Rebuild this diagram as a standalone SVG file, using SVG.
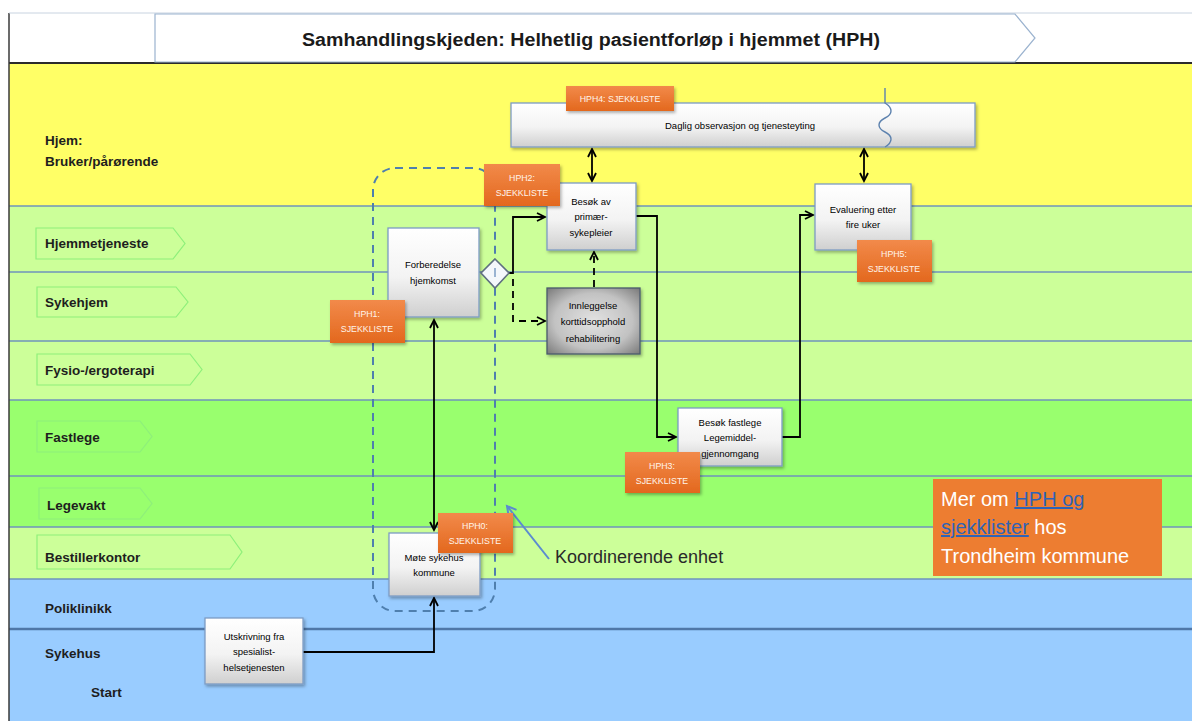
<svg xmlns="http://www.w3.org/2000/svg" width="1192" height="721" viewBox="0 0 1192 721">
  <defs>
    <style>
      .lane-line { stroke: #6f93bd; stroke-width: 1.5; }
      .lane-label { font-family: "Liberation Sans", Arial, sans-serif; font-size: 13.5px; font-weight: bold; fill: #1e1e1e; }
      .chev { fill: none; stroke: #8ef07a; stroke-width: 1.2; }
      .node { fill: url(#nodeGrad); stroke: #7d9cc4; stroke-width: 1.3; filter: url(#shadow); }
      .node-text { font-family: "Liberation Sans", Arial, sans-serif; font-size: 9.5px; fill: #000; text-anchor: middle; }
      .tag rect { fill: url(#tagGrad); filter: url(#shadow); }
      .tag text { font-family: "Liberation Sans", Arial, sans-serif; font-size: 8.8px; fill: #fff4ea; text-anchor: middle; }
      .conn { fill: none; stroke: #000; stroke-width: 1.8; }
      .dash { stroke-dasharray: 7 5; }
    </style>
    <linearGradient id="nodeGrad" x1="0" y1="0" x2="0" y2="1">
      <stop offset="0" stop-color="#ffffff"/>
      <stop offset="0.55" stop-color="#f3f3f3"/>
      <stop offset="1" stop-color="#cfcfcf"/>
    </linearGradient>
    <radialGradient id="greyGrad" cx="0.5" cy="0.5" r="0.7">
      <stop offset="0" stop-color="#e2e2e2"/>
      <stop offset="0.6" stop-color="#c2c2c2"/>
      <stop offset="1" stop-color="#7a7a7a"/>
    </radialGradient>
    <linearGradient id="tagGrad" x1="0" y1="0" x2="0" y2="1">
      <stop offset="0" stop-color="#f28a4a"/>
      <stop offset="1" stop-color="#e3681e"/>
    </linearGradient>
    <filter id="shadow" x="-10%" y="-10%" width="125%" height="130%">
      <feDropShadow dx="1.5" dy="2" stdDeviation="1.5" flood-color="#000" flood-opacity="0.3"/>
    </filter>
    <marker id="arr" markerUnits="userSpaceOnUse" markerWidth="12" markerHeight="12" refX="9" refY="5" orient="auto-start-reverse">
      <path d="M1,1 L9,5 L1,9" fill="none" stroke="#000" stroke-width="1.8"/>
    </marker>
    <marker id="arrBlue" markerUnits="userSpaceOnUse" markerWidth="14" markerHeight="14" refX="10" refY="6" orient="auto">
      <path d="M1,1 L10,6 L1,11" fill="none" stroke="#5b8bd0" stroke-width="2"/>
    </marker>
  </defs>

  <!-- background -->
  <rect x="0" y="0" width="1192" height="721" fill="#ffffff"/>

  <!-- swimlanes -->
  <g id="lanes">
    <rect x="9" y="64" width="1183" height="142" fill="#ffff66"/>
    <rect x="9" y="206" width="1183" height="194" fill="#ccff99"/>
    <rect x="9" y="400" width="1183" height="127" fill="#99ff6e"/>
    <rect x="9" y="527" width="1183" height="52" fill="#ccff99"/>
    <rect x="9" y="579" width="1183" height="142" fill="#99ccff"/>
    <line class="lane-line" x1="9" y1="206" x2="1192" y2="206"/>
    <line class="lane-line" x1="9" y1="272" x2="1192" y2="272"/>
    <line class="lane-line" x1="9" y1="341" x2="1192" y2="341"/>
    <line class="lane-line" x1="9" y1="400" x2="1192" y2="400"/>
    <line class="lane-line" x1="9" y1="476" x2="1192" y2="476"/>
    <line class="lane-line" x1="9" y1="527" x2="1192" y2="527"/>
    <line class="lane-line" x1="9" y1="579" x2="1192" y2="579"/>
    <line x1="9" y1="629" x2="1192" y2="629" stroke="#4f77a8" stroke-width="2.5"/>
    <line x1="9" y1="63" x2="1192" y2="63" stroke="#2b2b2b" stroke-width="2"/>
    <line x1="9" y1="13" x2="9" y2="721" stroke="#3a3a3a" stroke-width="1.5"/>
    <line x1="9" y1="13" x2="1192" y2="13" stroke="#c8d3e0" stroke-width="1"/>
  </g>

  <!-- header -->
  <g id="title">
    <path d="M155,14 H1015 L1035,38 L1015,62 H155 Z" fill="#ffffff" stroke="#9bb3cf" stroke-width="1.2"/>
    <text x="591" y="46" text-anchor="middle" font-family="'Liberation Sans', Arial, sans-serif" font-size="17.5px" font-weight="bold" fill="#1a1a1a" textLength="578" lengthAdjust="spacingAndGlyphs">Samhandlingskjeden: Helhetlig pasientforløp i hjemmet (HPH)</text>
  </g>

  <!-- lane labels -->
  <g id="lane-labels">
    <text class="lane-label" x="45" y="145">Hjem:</text>
    <text class="lane-label" x="45" y="166">Bruker/pårørende</text>
    <path class="chev" d="M36,228 H173 L185,243.5 L173,259 H36 Z"/>
    <text class="lane-label" x="45" y="248">Hjemmetjeneste</text>
    <path class="chev" d="M37,287 H176 L188,302 L176,317 H37 Z"/>
    <text class="lane-label" x="45" y="307">Sykehjem</text>
    <path class="chev" d="M37,354 H190 L202,369.5 L190,385 H37 Z"/>
    <text class="lane-label" x="45" y="375">Fysio-/ergoterapi</text>
    <path class="chev" d="M37,421 H140 L152,436.5 L140,452 H37 Z"/>
    <text class="lane-label" x="45" y="442">Fastlege</text>
    <path class="chev" d="M39,488 H140 L152,503.5 L140,519 H39 Z"/>
    <text class="lane-label" x="47" y="510">Legevakt</text>
    <path class="chev" d="M37,535 H230 L242,552 L230,569 H37 Z"/>
    <text class="lane-label" x="45" y="562">Bestillerkontor</text>
    <text class="lane-label" x="45" y="613">Poliklinikk</text>
    <text class="lane-label" x="45" y="658">Sykehus</text>
    <text class="lane-label" x="91" y="697">Start</text>
  </g>

  <!-- coordinating unit boundary -->
  <g id="koordinerende-enhet">
    <rect x="373" y="168" width="122" height="443" rx="22" ry="22" fill="none" stroke="#4f7fae" stroke-width="2" stroke-dasharray="8 6"/>
    <text x="555" y="563" font-family="'Liberation Sans', Arial, sans-serif" font-size="18px" fill="#2a2a2a">Koordinerende enhet</text>
  </g>

  <!-- connectors -->
  <g id="connectors">
    <path class="conn" d="M592,149 V181" marker-start="url(#arr)" marker-end="url(#arr)"/>
    <path class="conn" d="M864,149 V181" marker-start="url(#arr)" marker-end="url(#arr)"/>
    <path class="conn" d="M509,273 H513 V217 H545" marker-end="url(#arr)"/>
    <path class="conn dash" d="M513,279 V321 H545" marker-end="url(#arr)"/>
    <path class="conn dash" d="M594,287 V252" marker-end="url(#arr)"/>
    <path class="conn" stroke-width="1.5" d="M636,216 H657 V437 H676" marker-end="url(#arr)"/>
    <path class="conn" stroke-width="1.5" d="M782,437 H800 V215 H813" marker-end="url(#arr)"/>
    <path class="conn" stroke-width="2.6" d="M434,320 V530" marker-start="url(#arr)" marker-end="url(#arr)"/>
    <path class="conn" d="M303,652 H434 V598" marker-end="url(#arr)"/>
    <path d="M549,559 L507,506" fill="none" stroke="#5b8bd0" stroke-width="2" marker-end="url(#arrBlue)"/>
  </g>

  <!-- process steps -->
  <g id="daglig-observasjon">
    <rect class="node" x="511" y="103" width="464" height="44"/>
    <path d="M885,88 V103 C893,108 893,114 885,118 C877,122 877,128 885,132 C893,136 893,142 885,147" fill="none" stroke="#5d82ae" stroke-width="1.4"/>
    <text class="node-text" x="740" y="129" font-size="10px">Daglig observasjon og tjenesteyting</text>
  </g>

  <g id="besok-primaersykepleier">
    <rect class="node" x="547" y="183" width="89" height="67"/>
    <text class="node-text" x="591" y="205">Besøk av</text>
    <text class="node-text" x="591" y="220">primær-</text>
    <text class="node-text" x="591" y="236">sykepleier</text>
  </g>

  <g id="forberedelse-hjemkomst">
    <rect class="node" x="388" y="228" width="91" height="89"/>
    <text class="node-text" x="433" y="268">Forberedelse</text>
    <text class="node-text" x="433" y="284">hjemkomst</text>
  </g>

  <g id="gateway">
    <path d="M495,259 L509,273 L495,288 L481,273 Z" fill="#f4f7fb" stroke="#5f6f80" stroke-width="1.6"/>
    <line x1="495" y1="268" x2="495" y2="277" stroke="#7d9cc4" stroke-width="1.5"/>
  </g>

  <g id="innleggelse">
    <rect x="547" y="288" width="93" height="66" fill="url(#greyGrad)" stroke="#4a5a6c" stroke-width="1.3" filter="url(#shadow)"/>
    <text class="node-text" x="593" y="309" font-size="10px">Innleggelse</text>
    <text class="node-text" x="593" y="325" font-size="10px">korttidsopphold</text>
    <text class="node-text" x="593" y="342" font-size="10px">rehabilitering</text>
  </g>

  <g id="evaluering">
    <rect class="node" x="815" y="184" width="96" height="66"/>
    <text class="node-text" x="863" y="213">Evaluering etter</text>
    <text class="node-text" x="863" y="228">fire uker</text>
  </g>

  <g id="besok-fastlege">
    <rect class="node" x="678" y="408" width="104" height="58"/>
    <text class="node-text" x="730" y="426">Besøk fastlege</text>
    <text class="node-text" x="730" y="441">Legemiddel-</text>
    <text class="node-text" x="730" y="457">gjennomgang</text>
  </g>

  <g id="mote-sykehus-kommune">
    <rect class="node" x="389" y="533" width="91" height="63"/>
    <text class="node-text" x="434" y="561">Møte sykehus</text>
    <text class="node-text" x="434" y="576">kommune</text>
  </g>

  <g id="utskrivning">
    <rect class="node" x="205" y="618" width="98" height="66"/>
    <text class="node-text" x="254" y="640">Utskrivning fra</text>
    <text class="node-text" x="254" y="655">spesialist-</text>
    <text class="node-text" x="254" y="671">helsetjenesten</text>
  </g>

  <!-- checklist tags -->
  <g id="hph4" class="tag">
    <rect x="566" y="86" width="108" height="25"/>
    <text x="620" y="102">HPH4: SJEKKLISTE</text>
  </g>
  <g id="hph2" class="tag">
    <rect x="484" y="164" width="76" height="42"/>
    <text x="522" y="181">HPH2:</text>
    <text x="522" y="196">SJEKKLISTE</text>
  </g>
  <g id="hph1" class="tag">
    <rect x="330" y="300" width="75" height="43"/>
    <text x="367" y="317">HPH1:</text>
    <text x="367" y="332">SJEKKLISTE</text>
  </g>
  <g id="hph5" class="tag">
    <rect x="857" y="240" width="75" height="42"/>
    <text x="894" y="257">HPH5:</text>
    <text x="894" y="272">SJEKKLISTE</text>
  </g>
  <g id="hph3" class="tag">
    <rect x="625" y="452" width="75" height="41"/>
    <text x="662" y="469">HPH3:</text>
    <text x="662" y="484">SJEKKLISTE</text>
  </g>
  <g id="hph0" class="tag">
    <rect x="438" y="513" width="75" height="40"/>
    <text x="475" y="529">HPH0:</text>
    <text x="475" y="544">SJEKKLISTE</text>
  </g>

  <!-- info box -->
  <g id="info">
    <rect x="933" y="479" width="229" height="97" fill="#ed7d31"/>
    <g font-family="'Liberation Sans', Arial, sans-serif" font-size="20px" fill="#ffffff">
      <text x="941" y="506">Mer om <tspan fill="#2f63b6" text-decoration="underline">HPH og</tspan></text>
      <text x="941" y="534"><tspan fill="#2f63b6" text-decoration="underline">sjekklister</tspan> hos</text>
      <text x="941" y="563">Trondheim kommune</text>
    </g>
  </g>
</svg>
